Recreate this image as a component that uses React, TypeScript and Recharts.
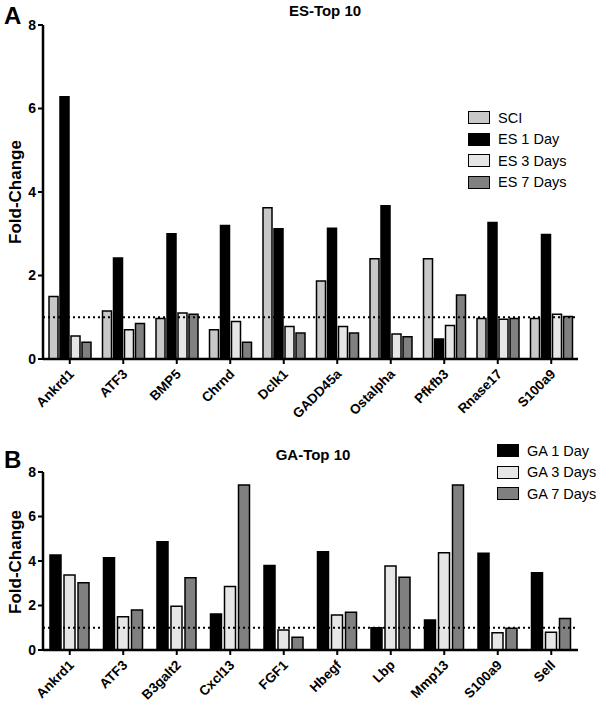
import { BarChart, Bar, XAxis, YAxis, ReferenceLine } from 'recharts';

const esGenes = ['Ankrd1', 'ATF3', 'BMP5', 'Chrnd', 'Dclk1', 'GADD45a', 'Ostalpha', 'Pfkfb3', 'Rnase17', 'S100a9'];
const esSci = [1.5, 1.15, 0.97, 0.7, 3.62, 1.87, 2.4, 2.4, 0.97, 0.97];
const es1Day = [6.28, 2.42, 3.0, 3.2, 3.12, 3.13, 3.67, 0.48, 3.27, 2.98];
const es3Days = [0.55, 0.7, 1.1, 0.9, 0.78, 0.78, 0.6, 0.8, 0.95, 1.07];
const es7Days = [0.4, 0.85, 1.07, 0.4, 0.62, 0.62, 0.53, 1.53, 0.97, 1.02];

const gaGenes = ['Ankrd1', 'ATF3', 'B3galt2', 'Cxcl13', 'FGF1', 'Hbegf', 'Lbp', 'Mmp13', 'S100a9', 'Sell'];
const ga1Day = [4.27, 4.15, 4.87, 1.62, 3.8, 4.42, 1.0, 1.35, 4.35, 3.47];
const ga3Days = [3.37, 1.5, 1.97, 2.85, 0.9, 1.57, 3.77, 4.37, 0.77, 0.8];
const ga7Days = [3.02, 1.8, 3.25, 7.42, 0.57, 1.7, 3.27, 7.42, 0.98, 1.42];

const yTicks = [0, 2, 4, 6, 8];

const FONT = '"Liberation Sans", Arial, sans-serif';

type Series = { key: string; name: string; color: string };

const esSeries: Series[] = [
  { key: 'sci', name: 'SCI', color: '#c8c8c8' },
  { key: 'd1', name: 'ES 1 Day', color: '#000000' },
  { key: 'd3', name: 'ES 3 Days', color: '#e6e6e6' },
  { key: 'd7', name: 'ES 7 Days', color: '#808080' },
];

const gaSeries: Series[] = [
  { key: 'd1', name: 'GA 1 Day', color: '#000000' },
  { key: 'd3', name: 'GA 3 Days', color: '#e6e6e6' },
  { key: 'd7', name: 'GA 7 Days', color: '#808080' },
];

const esData = esGenes.map((gene, i) => ({
  gene,
  sci: esSci[i],
  d1: es1Day[i],
  d3: es3Days[i],
  d7: es7Days[i],
}));

const gaData = gaGenes.map((gene, i) => ({
  gene,
  d1: ga1Day[i],
  d3: ga3Days[i],
  d7: ga7Days[i],
}));

function GeneTick({ x, y, payload }: any) {
  const tx = x + 5;
  const ty = y + 9;
  return (
    <text
      x={tx}
      y={ty}
      textAnchor="end"
      transform={`rotate(-45, ${tx}, ${ty})`}
      fontFamily={FONT}
      fontWeight="bold"
      fontSize={13.5}
      fill="#000"
    >
      {payload.value}
    </text>
  );
}

function LegendBox({ series, left, top }: { series: Series[]; left: number; top: number }) {
  return (
    <div style={{ position: 'absolute', left, top, fontFamily: FONT, fontSize: 14.5, color: '#000' }}>
      {series.map((s) => (
        <div key={s.key} style={{ display: 'flex', alignItems: 'center', height: 21.5, whiteSpace: 'nowrap' }}>
          <span
            style={{
              display: 'inline-block',
              width: 20,
              height: 11,
              background: s.color,
              border: '1.5px solid #000',
              marginRight: 8,
            }}
          />
          <span>{s.name}</span>
        </div>
      ))}
    </div>
  );
}

interface PanelProps {
  data: any[];
  series: Series[];
  height: number;
  top: number;
  plotTop: number;
  plotBottom: number;
  barSize: number;
  barGap: number;
}

function Panel({ data, series, height, top, plotTop, plotBottom, barSize, barGap }: PanelProps) {
  return (
    <div style={{ position: 'absolute', left: 0, top }}>
      <BarChart
        width={600}
        height={height}
        data={data}
        margin={{ top: plotTop, right: 22, left: 0, bottom: 0 }}
        barSize={barSize}
        barGap={barGap}
      >
        <XAxis
          dataKey="gene"
          height={height - plotBottom}
          interval={0}
          tick={<GeneTick />}
          tickSize={5}
          axisLine={{ stroke: '#000', strokeWidth: 2.5 }}
          tickLine={{ stroke: '#000', strokeWidth: 2 }}
        />
        <YAxis
          width={43}
          domain={[0, 8]}
          ticks={yTicks}
          interval={0}
          tickSize={5}
          axisLine={{ stroke: '#000', strokeWidth: 2.5 }}
          tickLine={{ stroke: '#000', strokeWidth: 2 }}
          tick={{ fill: '#000', fontFamily: FONT, fontWeight: 'bold', fontSize: 14 }}
        />
        <ReferenceLine y={1} stroke="#000" strokeWidth={2} strokeDasharray="2 3" />
        {series.map((s) => (
          <Bar
            key={s.key}
            dataKey={s.key}
            name={s.name}
            fill={s.color}
            stroke="#000"
            strokeWidth={1.5}
            isAnimationActive={false}
          />
        ))}
      </BarChart>
    </div>
  );
}

const titleStyle: React.CSSProperties = {
  position: 'absolute',
  fontFamily: FONT,
  fontWeight: 'bold',
  fontSize: 15,
  color: '#000',
  whiteSpace: 'nowrap',
};

const letterStyle: React.CSSProperties = {
  position: 'absolute',
  fontFamily: FONT,
  fontWeight: 'bold',
  fontSize: 24,
  color: '#000',
};

const yLabelStyle: React.CSSProperties = {
  position: 'absolute',
  fontFamily: FONT,
  fontWeight: 'bold',
  fontSize: 17,
  color: '#000',
  whiteSpace: 'nowrap',
  transform: 'translate(-50%, -50%) rotate(-90deg)',
};

export default function App() {
  return (
    <div style={{ position: 'absolute', left: 0, top: 0, width: 600, height: 703, background: '#fff' }}>
      <Panel
        data={esData}
        series={esSeries}
        height={425}
        top={0}
        plotTop={25}
        plotBottom={359}
        barSize={9}
        barGap={2}
      />
      <Panel
        data={gaData}
        series={gaSeries}
        height={278}
        top={425}
        plotTop={47}
        plotBottom={225}
        barSize={11}
        barGap={3}
      />
      <LegendBox series={esSeries} left={468} top={107} />
      <LegendBox series={gaSeries} left={497} top={440} />
      <div style={{ ...letterStyle, left: 4, top: 2 }}>A</div>
      <div style={{ ...titleStyle, left: 325, top: 2, transform: 'translateX(-50%)' }}>ES-Top 10</div>
      <div style={{ ...yLabelStyle, left: 16, top: 192 }}>Fold-Change</div>
      <div style={{ ...letterStyle, left: 4, top: 446 }}>B</div>
      <div style={{ ...titleStyle, left: 313, top: 446, transform: 'translateX(-50%)' }}>GA-Top 10</div>
      <div style={{ ...yLabelStyle, left: 16, top: 562 }}>Fold-Change</div>
    </div>
  );
}
